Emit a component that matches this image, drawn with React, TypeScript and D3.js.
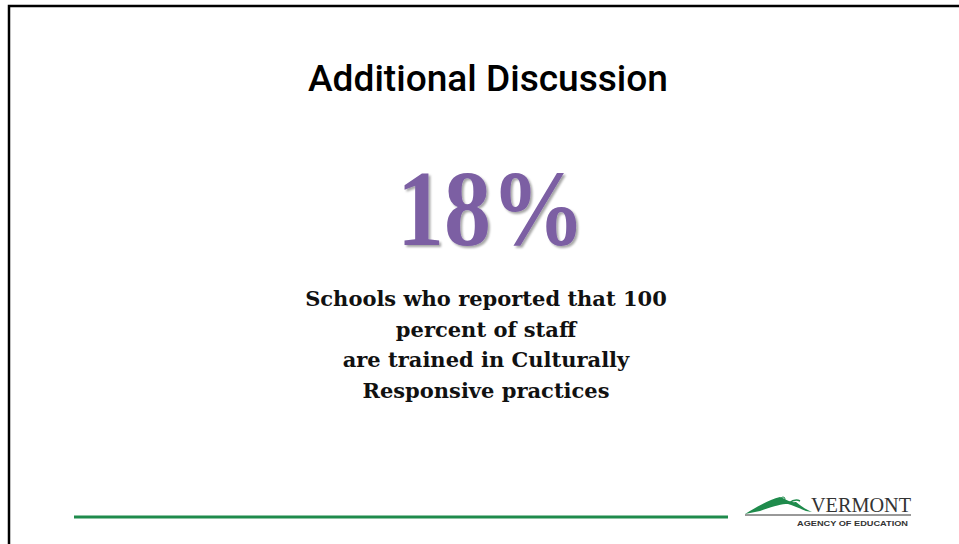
import React, { useEffect, useRef } from 'react';
import * as d3 from 'd3';

// slide content
const title = 'Additional Discussion';
const statValue = [18];
const statLabel = ['Schools who reported that 100', 'percent of staff', 'are trained in Culturally', 'Responsive practices'];
const logoWords = ['VERMONT', 'AGENCY OF EDUCATION'];

const W = 959;
const H = 544;

const App: React.FC = () => {
  const svgRef = useRef<SVGSVGElement>(null);

  useEffect(() => {
    const svg = d3.select(svgRef.current);
    svg.selectAll('*').remove();

    svg.append('rect').attr('width', W).attr('height', H).attr('fill', '#fff');

    // slide frame (top + left edges)
    svg.append('path')
      .attr('d', d3.line()([[9, H], [9, 6], [W, 6]]))
      .attr('fill', 'none')
      .attr('stroke', '#000')
      .attr('stroke-width', 2.5);

    svg.append('text')
      .attr('x', 488)
      .attr('y', 91)
      .attr('text-anchor', 'middle')
      .attr('font-family', 'Roboto, Liberation Sans, Arial, sans-serif')
      .attr('font-weight', 500)
      .attr('font-size', 36)
      .attr('textLength', 360)
      .attr('lengthAdjust', 'spacingAndGlyphs')
      .attr('fill', '#000')
      .text(title);

    const defs = svg.append('defs');
    const f = defs.append('filter').attr('id', 'sh').attr('x', '-10%').attr('y', '-10%').attr('width', '130%').attr('height', '130%');
    f.append('feDropShadow').attr('dx', 2).attr('dy', 2).attr('stdDeviation', 1.2).attr('flood-color', '#000').attr('flood-opacity', 0.35);

    svg.append('text')
      .data(statValue)
      .attr('x', 491)
      .attr('y', 245)
      .attr('text-anchor', 'middle')
      .attr('font-family', 'Liberation Serif, Times New Roman, serif')
      .attr('font-weight', 'bold')
      .attr('font-size', 108)
      .attr('textLength', 188)
      .attr('lengthAdjust', 'spacingAndGlyphs')
      .attr('fill', '#7b5fa3')
      .attr('filter', 'url(#sh)')
      .text(d => `${d}%`);

    const y = d3.scaleLinear().domain([0, statLabel.length - 1]).range([306, 398]);
    svg.append('g')
      .selectAll('text')
      .data(statLabel)
      .join('text')
      .attr('x', 486)
      .attr('y', (_, i) => y(i))
      .attr('text-anchor', 'middle')
      .attr('font-family', 'DejaVu Serif, Liberation Serif, serif')
      .attr('font-weight', 'bold')
      .attr('font-size', 21)
      .attr('fill', '#111')
      .text(d => d);

    // footer rule
    svg.append('line')
      .attr('x1', 74).attr('x2', 728)
      .attr('y1', 517).attr('y2', 517)
      .attr('stroke', '#1f8b4c')
      .attr('stroke-width', 3);

    // logo
    const logo = svg.append('g');
    logo.append('path')
      .attr('d', 'M745,514 C755,508 768,500 780,497 C786,499 790,503 796,502 C801,506 805,509 812,512 L806,511 C799,508 794,506 788,504 C781,504 774,506 760,511 Z')
      .attr('fill', '#1f8b4c');
    logo.append('path')
      .attr('d', 'M789,503 C793,500 796,499 800,501')
      .attr('fill', 'none').attr('stroke', '#1f8b4c').attr('stroke-width', 1.5);
    logo.append('circle').attr('cx', 783).attr('cy', 499).attr('r', 2).attr('fill', 'none').attr('stroke', '#1f8b4c').attr('stroke-width', 1);
    logo.append('text')
      .attr('x', 811).attr('y', 512)
      .attr('font-family', 'Liberation Serif, Times New Roman, serif')
      .attr('font-size', 21)
      .attr('textLength', 100)
      .attr('lengthAdjust', 'spacingAndGlyphs')
      .attr('fill', '#333')
      .text(logoWords[0]);
    logo.append('line')
      .attr('x1', 745).attr('x2', 911).attr('y1', 515).attr('y2', 515)
      .attr('stroke', '#333').attr('stroke-width', 1);
    logo.append('text')
      .attr('x', 797).attr('y', 526)
      .attr('font-family', 'Liberation Sans, Arial, sans-serif')
      .attr('font-weight', 'bold')
      .attr('font-size', 8)
      .attr('textLength', 111)
      .attr('lengthAdjust', 'spacingAndGlyphs')
      .attr('fill', '#333')
      .text(logoWords[1]);
  }, []);

  return <svg ref={svgRef} width={W} height={H} style={{ position: 'absolute', left: 0, top: 0, display: 'block' }} />;
};

export default App;
